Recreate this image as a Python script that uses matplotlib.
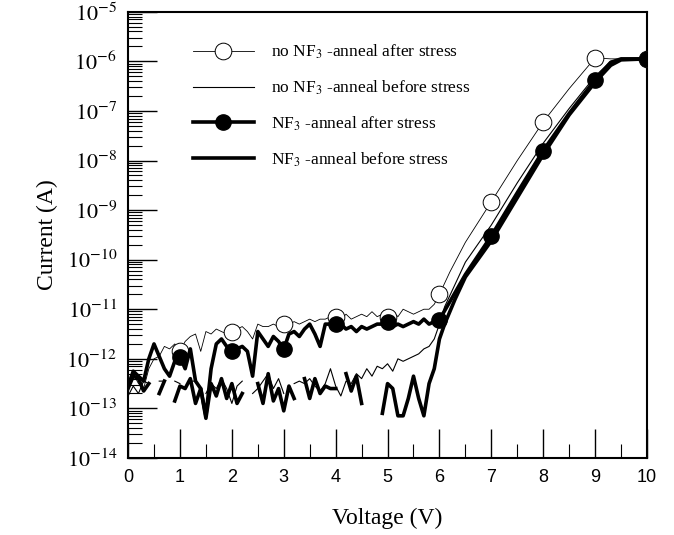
import numpy as np
import matplotlib
matplotlib.use("Agg")
import matplotlib.pyplot as plt
from matplotlib.ticker import LogLocator, MultipleLocator, FixedLocator, NullFormatter

plt.rcParams['font.family'] = ['Liberation Serif', 'DejaVu Serif']
plt.rcParams['mathtext.fontset'] = 'stix'

# voltage grid for the noisy sub-threshold part (0..6 V step 0.1), then the turn-on part
v_low = [round(0.1 * i, 1) for i in range(61)]
v_high_after = [6.2, 6.5, 7.0, 7.5, 8.0, 8.5, 9.0, 9.3, 9.5, 10.0]
v_high_before = [6.1, 6.3, 6.5, 7.0, 7.5, 8.0, 8.5, 9.0, 9.3, 9.5, 10.0]

# log10(current), nan = gap in the trace
nan = np.nan
noNF3_after_low = [-12.6, -12.3, -12.5, -12.6, -12.2, -12.0, -11.95, -11.75, -11.8, -11.7,
                   -11.85, -11.65, -11.55, -11.5, -11.85, -11.45, -11.5, -11.4, -11.45, -11.5,
                   -11.45, -11.4, -11.35, -11.45, -11.6, -11.3, -11.35, -11.35, -11.3, -11.35,
                   -11.3, -11.3, -11.25, -11.3, -11.25, -11.2, -11.25, -11.2, -11.2, -11.15,
                   -11.15, -11.2, -11.1, -11.2, -11.15, -11.1, -11.15, -11.05, -11.15, -11.1,
                   -11.15, -11.05, -11.15, -11.0, -11.05, -11.1, -11.05, -11.0, -11.0, -10.9,
                   -10.7]
noNF3_after_high = [-10.25, -9.65, -8.83, -8.0, -7.22, -6.55, -5.93, -5.95, -5.95, -5.95]

noNF3_before_low = [-12.75, -12.55, -12.7, -12.45, -12.5, nan, -12.45, -12.45, nan, -12.45,
                    -12.5, nan, -12.45, -12.45, nan, -12.7, -12.5, -12.6, -12.4, -12.6,
                    -12.9, -12.55, -12.45, nan, -12.7, -12.6, -12.45, -12.3, -12.6, -12.4,
                    -12.7, nan, -12.5, -12.45, -12.5, -12.4, -12.55, -12.65, -12.5, -12.2,
                    -12.55, -12.75, -12.45, -12.5, -12.3, -12.4, -12.2, -12.35, -12.15, -12.2,
                    -12.1, -12.25, -12.0, -12.05, -12.0, -11.95, -11.9, -11.8, -11.75, -11.6,
                    -11.3]
noNF3_before_high = [-10.95, -10.5, -10.05, -9.3, -8.45, -7.65, -6.95, -6.3, -6.0, -5.95, -5.95]

NF3_after_low = [-12.55, -12.25, -12.35, -12.45, -12.0, -11.7, -11.95, -12.2, -12.35, -12.05,
                 -11.96, -12.2, -11.8, -12.45, -12.6, -13.15, -12.2, -11.7, -11.6, -11.75,
                 -11.85, -11.8, -11.75, -11.85, -12.35, -11.45, -11.6, -11.75, -11.55, -11.65,
                 -11.81, -11.5, -11.45, -11.55, -11.4, -11.3, -11.5, -11.75, -11.3, -11.3,
                 -11.29, -11.3, -11.4, -11.35, -11.45, -11.35, -11.4, -11.35, -11.3, -11.3,
                 -11.25, -11.35, -11.3, -11.35, -11.3, -11.25, -11.3, -11.2, -11.3, -11.25,
                 -11.21]
NF3_after_high = [-10.85, -10.3, -9.52, -8.65, -7.8, -7.05, -6.37, -6.02, -5.95, -5.95]

NF3_before_low = [-12.6, -12.35, -12.4, -12.65, -12.5, nan, -12.7, -12.45, nan, -12.85,
                  -12.55, -12.6, -12.4, -12.9, -12.6, -13.2, -12.5, -12.75, -12.4, -12.8,
                  -12.5, -12.9, -12.7, nan, nan, -12.5, -12.9, -12.3, -12.85, -12.6,
                  -13.05, -12.55, -12.8, nan, -12.4, -12.8, -12.4, -12.7, -12.55, -12.6,
                  -12.6, nan, -12.3, -12.65, -12.35, -12.9, nan, nan, nan, -13.1,
                  -12.5, -12.6, -13.15, -13.15, -12.8, -12.35, -12.8, -13.15, -12.5, -12.2,
                  -11.6]
NF3_before_high = [-11.3, -10.8, -10.35, -9.62, -8.75, -7.88, -7.08, -6.42, -6.08, -5.97, -5.95]

marker_volts = [1, 2, 3, 4, 5, 6, 7, 8, 9, 10]


def build(v_lo, lo, v_hi, hi):
    v = np.array(v_lo + v_hi)
    i = 10.0 ** np.array(lo + hi)
    return v, i


def mark_idx(v):
    return [int(np.argmin(np.abs(v - m))) for m in marker_volts]


fig = plt.figure(figsize=(6.74, 5.35), dpi=100)
ax = fig.add_axes([0.19, 0.144, 0.77, 0.834])

v, i = build(v_low, noNF3_after_low, v_high_after, noNF3_after_high)
ax.plot(v, i, color='black', lw=0.6, marker='o', ms=12, mfc='white', mec='black', mew=0.7,
        markevery=mark_idx(v), label='no NF$_3$ -anneal after stress', zorder=3)
v, i = build(v_low, noNF3_before_low, v_high_before, noNF3_before_high)
ax.plot(v, i, color='black', lw=0.8, label='no NF$_3$ -anneal before stress', zorder=2)
v, i = build(v_low, NF3_after_low, v_high_after, NF3_after_high)
ax.plot(v, i, color='black', lw=2.6, marker='o', ms=11, mfc='black', mec='black',
        markevery=mark_idx(v), label='NF$_3$ -anneal after stress', zorder=4)
v, i = build(v_low, NF3_before_low, v_high_before, NF3_before_high)
ax.plot(v, i, color='black', lw=2.6, label='NF$_3$ -anneal before stress', zorder=2)

ax.set_yscale('log')
ax.set_xlim(0, 10)
ax.set_ylim(1e-14, 1e-5)

ax.xaxis.set_major_locator(MultipleLocator(1))
ax.xaxis.set_minor_locator(MultipleLocator(0.5))
ax.yaxis.set_major_locator(FixedLocator([10.0 ** k for k in range(-14, -4)]))
ax.yaxis.set_minor_locator(LogLocator(base=10, subs=np.arange(2, 10), numticks=20))
ax.yaxis.set_minor_formatter(NullFormatter())
ax.set_yticklabels(['$10^{%d}$' % k for k in range(-14, -4)], fontsize=16)
for lab in ax.get_xticklabels():
    lab.set_family('Liberation Sans')
ax.tick_params(axis='x', labelsize=13)

ax.tick_params(which='major', direction='in', length=21, width=1.0, pad=8,
               top=False, right=False)
ax.tick_params(which='minor', direction='in', length=10, width=0.8,
               top=False, right=False)
for s in ax.spines.values():
    s.set_linewidth(1.5)

ax.set_xlabel('Voltage (V)', fontsize=17, labelpad=16)
ax.set_ylabel('Current (A)', fontsize=17, labelpad=6)

ax.legend(loc='upper left', bbox_to_anchor=(0.125, 0.93), frameon=False, fontsize=12.5,
          numpoints=1, handlelength=3.5, handletextpad=1.0, labelspacing=1.0,
          borderpad=0, borderaxespad=0)

plt.savefig('out.png', dpi=100)
